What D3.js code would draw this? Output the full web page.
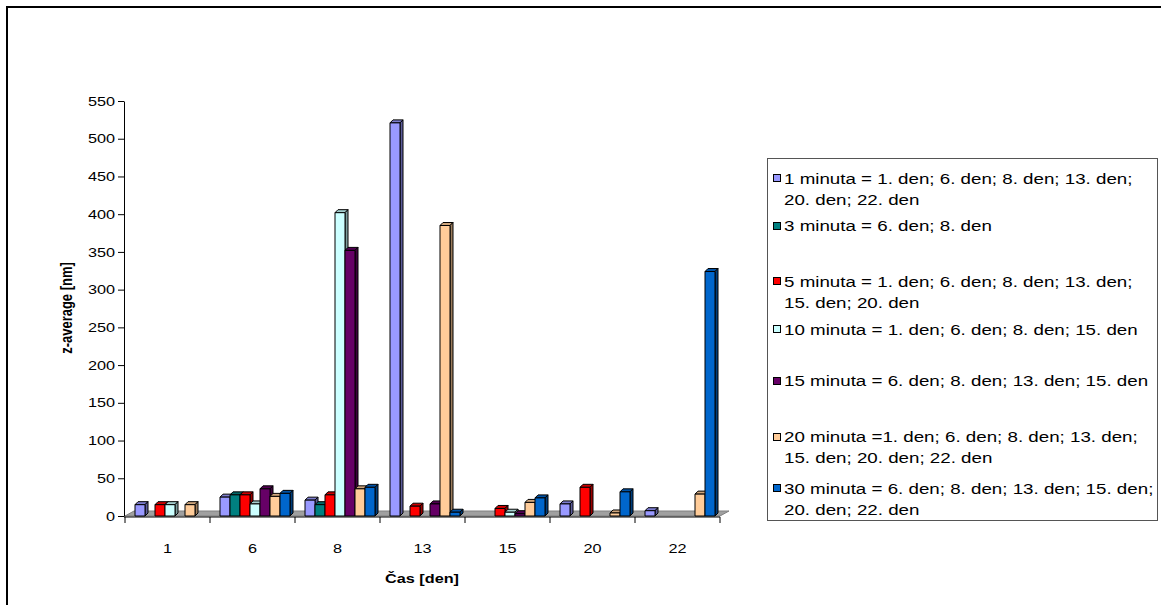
<!DOCTYPE html>
<html>
<head>
<meta charset="utf-8">
<script src="https://cdn.jsdelivr.net/npm/d3@7/dist/d3.min.js"></script>
<style>
  body { margin: 0; background: #fff; }
  svg { display: block; font-family: "Liberation Sans", Arial, sans-serif; }
</style>
</head>
<body>
<div id="chart"></div>
<script>
// values (z-average, nm); null = no bar that day
const categories = ['1', '6', '8', '13', '15', '20', '22'];
const min1  = [15, 25, 21, 521, null, 16, 7];
const min3  = [null, 28, 15, null, null, null, null];
const min5  = [15, 28, 28, 13, 10, 38, null];
const min10 = [15, 16, 402, null, 5, null, null];
const min15 = [null, 36, 352, 16, 3, null, null];
const min20 = [15, 26, 36, 385, 18, 4, 29];
const min30 = [null, 30, 38, 5, 24, 32, 324];
const yTicks = [0, 50, 100, 150, 200, 250, 300, 350, 400, 450, 500, 550];

const seriesNames = [
  '1 minuta = 1. den; 6. den; 8. den; 13. den; 20. den; 22. den',
  '3 minuta = 6. den; 8. den',
  '5 minuta = 1. den; 6. den; 8. den; 13. den; 15. den; 20. den',
  '10 minuta = 1. den; 6. den; 8. den; 15. den',
  '15 minuta = 6. den; 8. den; 13. den; 15. den',
  '20 minuta =1. den; 6. den; 8. den; 13. den; 15. den; 20. den; 22. den',
  '30 minuta = 6. den; 8. den; 13. den; 15. den; 20. den; 22. den'
];
const seriesValues = [min1, min3, min5, min10, min15, min20, min30];
const colors = ['#9999ff', '#008080', '#ff0000', '#ccffff', '#660066', '#ffcc99', '#0066cc'];

const W = 1161, H = 605;
const SX = 1.25;                 // the original picture is stretched sideways
const pLeft = 125, pRight = 720, pTop = 101, pBottom = 516;
const DEPTH = 3;

const svg = d3.select('#chart').append('svg')
  .attr('width', W).attr('height', H);

// outer frame
svg.append('rect')
  .attr('x', 7).attr('y', 7).attr('width', 1200).attr('height', 700)
  .attr('fill', 'none').attr('stroke', '#000').attr('stroke-width', 2);

function stext(parent, x, yy, str, size, anchor, bold) {
  return parent.append('text')
    .attr('transform', 'translate(' + x + ',' + yy + ') scale(' + SX + ',1)')
    .attr('font-size', size)
    .attr('text-anchor', anchor || 'start')
    .attr('font-weight', bold ? 'bold' : 'normal')
    .attr('fill', '#000')
    .text(str);
}

// scales
const x0 = d3.scaleBand().domain(categories).range([pLeft, pRight]);
const x1 = d3.scaleBand().domain(d3.range(seriesValues.length)).range([10, 80]);
const y = d3.scaleLinear().domain([0, 550]).range([pBottom, pTop]);

// floor
svg.append('path')
  .attr('d', `M${pLeft},${pBottom}L${pRight},${pBottom}L${pRight + 9},${pBottom - 5}L${pLeft + 9},${pBottom - 5}Z`)
  .attr('fill', '#a0a0a0').attr('stroke', '#808080').attr('stroke-width', 1);

// bars, drawn left to right so the next front face hides the side face
const bars = svg.append('g');
categories.forEach((c, ci) => {
  seriesValues.forEach((vals, si) => {
    const v = vals[ci];
    if (v == null) return;
    const bx = x0(c) + x1(si), bw = x1.bandwidth();
    const by = y(v), bh = pBottom - by;
    const col = d3.color(colors[si]);
    const g = bars.append('g').attr('stroke', '#000').attr('stroke-width', 1).attr('stroke-linejoin', 'round');
    g.append('path')
      .attr('d', `M${bx},${by}L${bx + DEPTH},${by - DEPTH}L${bx + bw + DEPTH},${by - DEPTH}L${bx + bw},${by}Z`)
      .attr('fill', col.darker(0.6));
    g.append('path')
      .attr('d', `M${bx + bw},${by}L${bx + bw + DEPTH},${by - DEPTH}L${bx + bw + DEPTH},${pBottom - DEPTH}L${bx + bw},${pBottom}Z`)
      .attr('fill', col.darker(1.4));
    g.append('rect')
      .attr('x', bx).attr('y', by).attr('width', bw).attr('height', bh)
      .attr('fill', colors[si]);
  });
});

// y axis
const yAxis = svg.append('g')
  .attr('transform', `translate(${pLeft - 1},0)`)
  .call(d3.axisLeft(y).tickValues(yTicks).tickSize(6).tickPadding(3).tickSizeOuter(0));
yAxis.select('.domain').attr('stroke', '#000');
yAxis.selectAll('.tick line').attr('stroke', '#000');
yAxis.selectAll('.tick text')
  .attr('font-size', 13).attr('font-family', '"Liberation Sans", Arial, sans-serif')
  .attr('fill', '#000')
  .attr('x', -9 / SX)
  .attr('transform', `scale(${SX},1)`);

// x axis: baseline, boundary ticks, labels
const xg = svg.append('g');
xg.append('line')
  .attr('x1', pLeft - 1).attr('x2', pRight).attr('y1', pBottom + 1).attr('y2', pBottom + 1)
  .attr('stroke', '#000');
xg.selectAll('.xtick')
  .data(categories.map(c => x0(c)).concat([pRight]))
  .enter().append('line')
  .attr('x1', d => d).attr('x2', d => d)
  .attr('y1', pBottom + 1).attr('y2', pBottom + 7)
  .attr('stroke', '#000');
categories.forEach(c => {
  stext(xg, x0(c) + x0.bandwidth() / 2, 553, c, 13, 'middle');
});

// axis titles
stext(svg, 422, 583, 'Čas [den]', 13, 'middle', true);
svg.append('text')
  .attr('transform', `translate(66,308) scale(${SX},1) rotate(-90)`)
  .attr('font-size', 13).attr('font-weight', 'bold')
  .attr('text-anchor', 'middle').attr('dy', '0.35em')
  .text('z-average [nm]');

// legend
const lg = svg.append('g');
lg.append('rect')
  .attr('x', 767.5).attr('y', 158.5).attr('width', 390).attr('height', 362)
  .attr('fill', '#fff').attr('stroke', '#555').attr('stroke-width', 1);

const maxW = 370;
seriesNames.forEach((name, i) => {
  // wrap the label into lines that fit the box
  const words = name.split(' ');
  const lines = [];
  let cur = '';
  const probe = stext(lg, 0, -100, '', 15);
  words.forEach(w => {
    const test = cur ? cur + ' ' + w : w;
    probe.text(test);
    if (probe.node().getComputedTextLength() * SX > maxW && cur) {
      lines.push(cur);
      cur = w;
    } else {
      cur = test;
    }
  });
  lines.push(cur);
  probe.remove();

  const cy = 178 + i * 51.7 - (lines.length === 1 ? 4 : 0);
  lg.append('rect')
    .attr('x', 773.5).attr('y', Math.round(cy - 4) + 0.5).attr('width', 7).attr('height', 7)
    .attr('fill', colors[i]).attr('stroke', '#000').attr('stroke-width', 1);
  lines.forEach((ln, li) => {
    stext(lg, 784, cy + 5.5 + li * 21, ln, 15);
  });
});
</script>
</body>
</html>
